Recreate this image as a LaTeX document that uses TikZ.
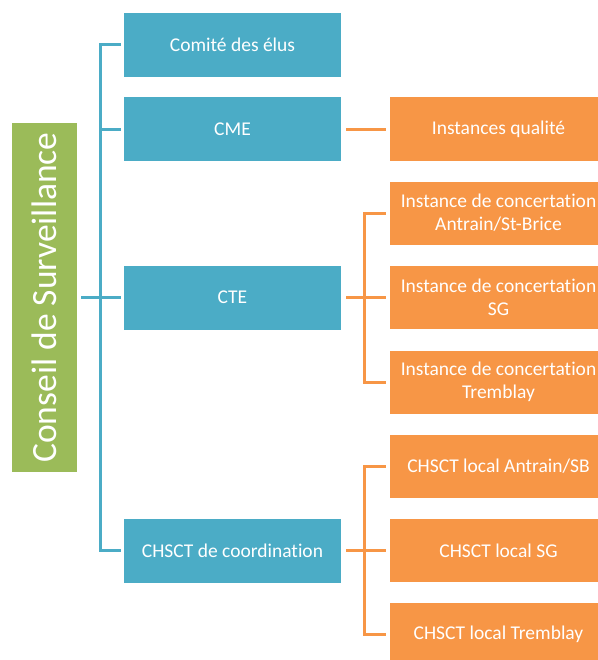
\documentclass[tikz,border=0pt]{standalone}
\usepackage{fontspec}
\setmainfont{Carlito}[Ligatures={NoCommon}]
\definecolor{cblue}{HTML}{4BACC6}
\definecolor{corange}{HTML}{F79646}
\definecolor{cgreen}{HTML}{9BBB59}
\begin{document}
\begin{tikzpicture}[x=1bp,y=-1bp,
  bluebox/.style={fill=cblue,draw=none,minimum width=217bp,minimum height=64bp,inner sep=0pt,text=white,font=\fontsize{19.5bp}{23bp}\selectfont,align=center},
  orangebox/.style={fill=corange,draw=none,minimum width=217bp,minimum height=63bp,inner sep=0pt,text=white,font=\fontsize{19.5bp}{23bp}\selectfont,align=center},
  greenbox/.style={fill=cgreen,draw=none,minimum width=349bp,minimum height=65bp,inner sep=0pt,text=white,font=\fontsize{35.5bp}{40bp}\selectfont,rotate=90},
  blueline/.style={draw=cblue,line width=3bp},
  orangeline/.style={draw=corange,line width=3bp}]
\useasboundingbox (0,0) rectangle (598,660);
\node[greenbox] (cs) at (44.5,297.5) {Conseil de Surveillance};
\node[bluebox] (ce) at (232.5,45) {Comité des élus};
\node[bluebox] (cme) at (232.5,129) {CME};
\node[bluebox] (cte) at (232.5,297.5) {CTE};
\node[bluebox] (chc) at (232.5,550.5) {CHSCT de coordination};
\node[orangebox] (iq) at (498.5,129) {Instances qualité};
\node[orangebox] (ic1) at (498.5,213) {Instance de concertation\\Antrain/St-Brice};
\node[orangebox] (ic2) at (498.5,297.5) {Instance de concertation\\SG};
\node[orangebox] (ic3) at (498.5,382) {Instance de concertation\\Tremblay};
\node[orangebox] (ch1) at (498.5,466.5) {CHSCT local Antrain/SB};
\node[orangebox] (ch2) at (498.5,550.5) {CHSCT local SG};
\node[orangebox] (ch3) at (498.5,634.5) {CHSCT local Tremblay};
% blue connectors
\draw[blueline,shorten <=3bp] (ce.west) -- ++(-23,0) coordinate (t1) |- ([xshift=-3bp]chc.west);
\draw[blueline,shorten <=3bp] (cme.west) -- (cme.west -| t1);
\draw[blueline,shorten <=4bp,shorten >=3bp] (cte.west -| cs.south) -- (cte.west);
% orange connectors
\draw[orangeline,shorten <=5bp,shorten >=4bp] (cme.east) -- (iq.west);
\draw[orangeline,shorten <=5bp,shorten >=4bp] (cte.east) -- (ic2.west);
\draw[orangeline,shorten <=4bp] (ic1.west) -- ++(-25,0) coordinate (t2) |- ([xshift=-4bp]ic3.west);
\draw[orangeline,shorten <=5bp,shorten >=4bp] (chc.east) -- (ch2.west);
\draw[orangeline,shorten <=4bp] (ch1.west) -- ++(-25,0) |- ([xshift=-4bp]ch3.west);
\end{tikzpicture}
\end{document}
